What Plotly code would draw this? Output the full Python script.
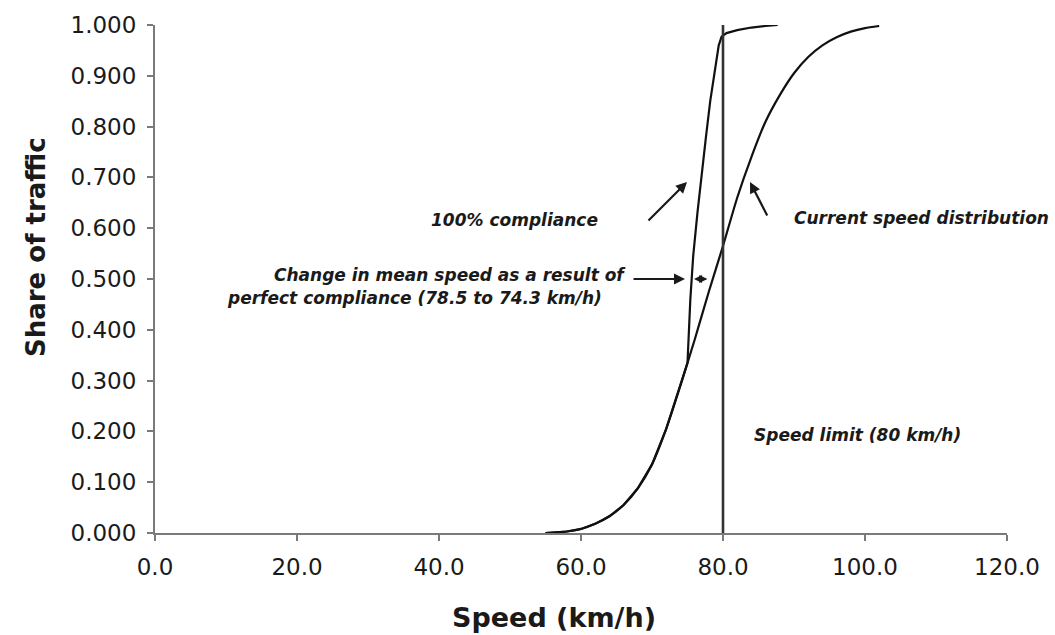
import plotly.graph_objects as go

# ---- data ----
current_speed = [55, 58, 60, 62, 64, 66, 68, 70, 72, 74, 75, 76, 78, 80, 82, 84, 86, 88, 90, 92, 94, 96, 98, 100, 102]
current_share = [0.000, 0.003, 0.008, 0.018, 0.033, 0.055, 0.088, 0.135, 0.205, 0.290, 0.335, 0.380, 0.475, 0.565, 0.660,
                 0.740, 0.810, 0.862, 0.905, 0.937, 0.960, 0.976, 0.987, 0.994, 0.998]

compliance_speed = [55, 58, 60, 62, 64, 66, 68, 70, 72, 74, 75.0, 75.4, 75.8, 76.4, 77.0, 77.6, 78.2, 78.8, 79.4, 79.8,
                    80.5, 82, 84, 86, 87.7]
compliance_share = [0.000, 0.003, 0.008, 0.018, 0.033, 0.055, 0.088, 0.135, 0.205, 0.290, 0.335, 0.460, 0.545, 0.630,
                    0.710, 0.780, 0.850, 0.910, 0.960, 0.977, 0.984, 0.990, 0.995, 0.998, 1.000]

speed_limit = 80.0
limit_line_share = [0.0, 1.0]

x_ticks = [0, 20, 40, 60, 80, 100, 120]
y_ticks = [0.0, 0.1, 0.2, 0.3, 0.4, 0.5, 0.6, 0.7, 0.8, 0.9, 1.0]

FONT = "DejaVu Sans"
INK = "#1a1a1a"
AXIS = "#7a7a7a"

fig = go.Figure()
fig.add_trace(go.Scatter(x=current_speed, y=current_share, mode="lines", line=dict(color="#111", width=2.2, shape="spline", smoothing=0.6),
                         cliponaxis=False, showlegend=False, name="Current speed distribution"))
fig.add_trace(go.Scatter(x=compliance_speed, y=compliance_share, mode="lines", line=dict(color="#111", width=2.2),
                         cliponaxis=False, showlegend=False, name="100% compliance"))
fig.add_trace(go.Scatter(x=[speed_limit, speed_limit], y=limit_line_share, mode="lines", line=dict(color="#333", width=2.6),
                         cliponaxis=False, showlegend=False, name="Speed limit"))

ann_font = dict(family=FONT, size=17, color=INK, weight="bold", style="italic")
annotations = [
    dict(x=50.7, y=0.616, xref="x", yref="y", text="100% compliance", showarrow=False, font=ann_font, xanchor="center", yanchor="middle"),
    dict(x=107.9, y=0.620, xref="x", yref="y", text="Current speed distribution", showarrow=False, font=ann_font, xanchor="center", yanchor="middle"),
    dict(x=41.5, y=0.508, xref="x", yref="y", text="Change in mean speed as a result of", showarrow=False, font=ann_font, xanchor="center", yanchor="middle"),
    dict(x=36.6, y=0.463, xref="x", yref="y", text="perfect compliance (78.5 to 74.3 km/h)", showarrow=False, font=ann_font, xanchor="center", yanchor="middle"),
    dict(x=99.0, y=0.193, xref="x", yref="y", text="Speed limit (80 km/h)", showarrow=False, font=ann_font, xanchor="center", yanchor="middle"),
    # arrows
    dict(x=74.93, y=0.691, xref="x", yref="y", ax=-40, ay=40, text="", showarrow=True, arrowhead=2, arrowsize=1, arrowwidth=2.2, arrowcolor=INK),
    dict(x=83.8, y=0.691, xref="x", yref="y", ax=18, ay=35, text="", showarrow=True, arrowhead=2, arrowsize=1, arrowwidth=2.2, arrowcolor=INK),
    dict(x=74.65, y=0.500, xref="x", yref="y", ax=-53, ay=0, text="", showarrow=True, arrowhead=2, arrowsize=1, arrowwidth=2.2, arrowcolor=INK),
    dict(x=77.8, y=0.500, xref="x", yref="y", ax=75.7, ay=0.500, axref="x", ayref="y", text="", showarrow=True,
         arrowhead=2, startarrowhead=2, arrowside="end+start", arrowsize=0.9, startarrowsize=0.9, arrowwidth=1.8, arrowcolor=INK),
    # axis titles
    dict(x=(554 - 155) / 852, y=-(617 - 533) / 508, xref="paper", yref="paper", text="Speed (km/h)", showarrow=False,
         font=dict(family=FONT, size=27, color=INK, weight="bold"), xanchor="center", yanchor="middle"),
    dict(x=(36 - 155) / 852, y=(533 - 247) / 508, xref="paper", yref="paper", text="Share of traffic", showarrow=False, textangle=-90,
         font=dict(family=FONT, size=26, color=INK, weight="bold"), xanchor="center", yanchor="middle"),
]

fig.update_layout(
    width=1055, height=635,
    margin=dict(l=155, r=48, t=25, b=102, pad=0),
    paper_bgcolor="white", plot_bgcolor="white",
    font=dict(family=FONT, color=INK),
    annotations=annotations,
    xaxis=dict(range=[0, 120], tickvals=x_ticks, tickformat=".1f", showgrid=False, zeroline=False,
               showline=True, linecolor=AXIS, linewidth=2, ticks="outside", ticklen=6, tickcolor=AXIS, tickwidth=2,
               tickfont=dict(family=FONT, size=23, color=INK), ticklabelstandoff=6),
    yaxis=dict(range=[0, 1], tickvals=y_ticks, tickformat=".3f", showgrid=False, zeroline=False,
               showline=True, linecolor=AXIS, linewidth=2, ticks="outside", ticklen=6, tickcolor=AXIS, tickwidth=2,
               tickfont=dict(family=FONT, size=23, color=INK), ticklabelstandoff=6),
)

fig.write_html("out.html")
